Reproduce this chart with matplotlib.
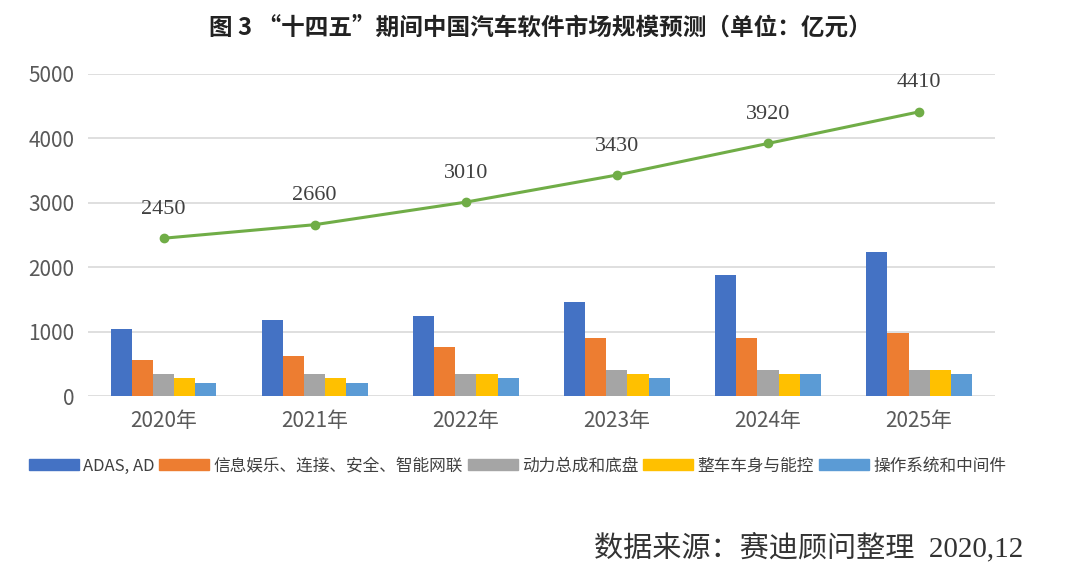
import numpy as np
import matplotlib
matplotlib.use("Agg")
import matplotlib.pyplot as plt
from matplotlib.patches import Patch

plt.rcParams['font.family'] = ['Noto Sans CJK SC', 'DejaVu Sans']

years = ['2020年', '2021年', '2022年', '2023年', '2024年', '2025年']
total = [2450, 2660, 3010, 3430, 3920, 4410]
adas = [1050, 1180, 1250, 1460, 1880, 2230]
infotain = [560, 620, 760, 900, 900, 980]
power = [350, 350, 350, 410, 410, 410]
body = [280, 280, 350, 350, 350, 410]
os_mid = [200, 200, 280, 280, 350, 350]

series = [adas, infotain, power, body, os_mid]
names = ['ADAS, AD', '信息娱乐、连接、安全、智能网联', '动力总成和底盘', '整车车身与能控', '操作系统和中间件']
colors = ['#4472C4', '#ED7D31', '#A5A5A5', '#FFC000', '#5B9BD5']

fig = plt.figure(figsize=(10.8, 5.81), dpi=100)
ax = fig.add_axes([0.0815, 0.318, 0.8395, 0.555])

x = np.arange(len(years))
w = 0.14
for i, (vals, c) in enumerate(zip(series, colors)):
    ax.bar(x + (i - 2) * w, vals, width=w, color=c, zorder=3)

ax.plot(x, total, color='#70AD47', lw=2.2, marker='o', ms=6, zorder=4)
for xi, v in zip(x, total):
    ax.annotate(str(v), (xi, v), xytext=(0, 14), textcoords='offset points',
                ha='center', va='bottom', fontsize=16, color='#404040',
                family=['Liberation Serif'])

ax.set_xlim(-0.5, 5.5)
ax.set_ylim(0, 5000)
ax.set_yticks(range(0, 5001, 1000))
ax.set_xticks(x)
ax.set_xticklabels(years)
ax.grid(axis='y', color='#D9D9D9', lw=1.2, zorder=0)
for s in ax.spines.values():
    s.set_visible(False)
ax.tick_params(length=0, labelsize=15, colors='#595959')
ax.tick_params(axis='x', pad=10)
ax.tick_params(axis='y', pad=10)

fig.text(0.5, 0.953, '图 3 “十四五”期间中国汽车软件市场规模预测（单位：亿元）',
         ha='center', va='center', fontsize=17, fontweight='bold', color='#222222')

handles = [Patch(color=c) for c in colors]
fig.legend(handles, names, loc='center', bbox_to_anchor=(0.479, 0.198), ncol=5,
           frameon=False, fontsize=12, handlelength=3.0, handleheight=0.6,
           handletextpad=0.25, columnspacing=0.3, labelcolor='#404040')

fig.text(0.947, 0.057, '数据来源：赛迪顾问整理  2020,12', ha='right', va='center',
         fontsize=21, color='#333333', family=['Liberation Serif', 'Noto Sans CJK SC'])

fig.savefig('out.png', dpi=100, facecolor='white')
